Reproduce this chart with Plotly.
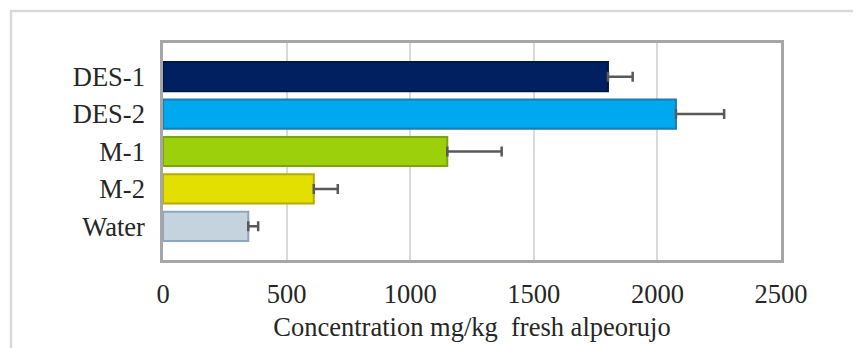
import plotly.graph_objects as go

categories = ["DES-1", "DES-2", "M-1", "M-2", "Water"]
values = [1800, 2075, 1150, 610, 345]
errors = [100, 195, 220, 97, 40]
x_ticks = [0, 500, 1000, 1500, 2000, 2500]

fill_colors = ["#002060", "#00A8F0", "#9CD00A", "#E3DF00", "#C5D3DE"]
line_colors = ["#001845", "#1A7DAF", "#7AA60C", "#B5AE00", "#8CA6BE"]

# page body has an 8px margin; compensate
OFF = 8
W, H = 861 - OFF, 348 - OFF
L, T = 163 - OFF, 43 - OFF
R = W - (781 - OFF)
B = H - (260 - OFF)
pw, ph = W - L - R, H - T - B
bx, by = 11 - OFF, 11 - OFF

fig = go.Figure(
    go.Bar(
        y=categories,
        x=values,
        orientation="h",
        width=0.78,
        marker=dict(color=fill_colors, line=dict(color=line_colors, width=2)),
        error_x=dict(type="data", array=errors, symmetric=False, arrayminus=[0] * len(errors),
                     color="#595959", thickness=2.5, width=5),
    )
)

font = "Liberation Serif"
FS = 26.5
fig.update_layout(
    width=W, height=H,
    margin=dict(l=L, r=R, t=T, b=B, autoexpand=False),
    paper_bgcolor="white", plot_bgcolor="white",
    showlegend=False,
    font=dict(family=font, size=FS, color="#262626"),
    xaxis=dict(
        range=[0, 2500], tickvals=x_ticks, ticktext=[str(v) for v in x_ticks],
        showgrid=True, gridcolor="#D9D9D9", gridwidth=2,
        showline=True, linecolor="#A6A6A6", linewidth=2.5, mirror=True,
        zeroline=False, ticks="", ticklabelstandoff=8,
        tickfont=dict(family=font, size=FS),
        title=dict(text="Concentration mg/kg  fresh alpeorujo", font=dict(family=font, size=FS), standoff=10),
    ),
    yaxis=dict(
        type="category", categoryorder="array", categoryarray=categories,
        range=[4.9, -0.9],
        showgrid=False, showline=True, linecolor="#A6A6A6", linewidth=2.5, mirror=True,
        zeroline=False, ticks="", ticklabelstandoff=10,
        tickfont=dict(family=font, size=FS),
    ),
    shapes=[dict(
        type="rect", xref="paper", yref="paper",
        x0=(bx - L) / pw, x1=1.5, y0=-0.8, y1=1 + (T - by) / ph,
        line=dict(color="#D9D9D9", width=2.5), fillcolor="rgba(0,0,0,0)", layer="below",
    )],
)

fig.write_html("out.html")
